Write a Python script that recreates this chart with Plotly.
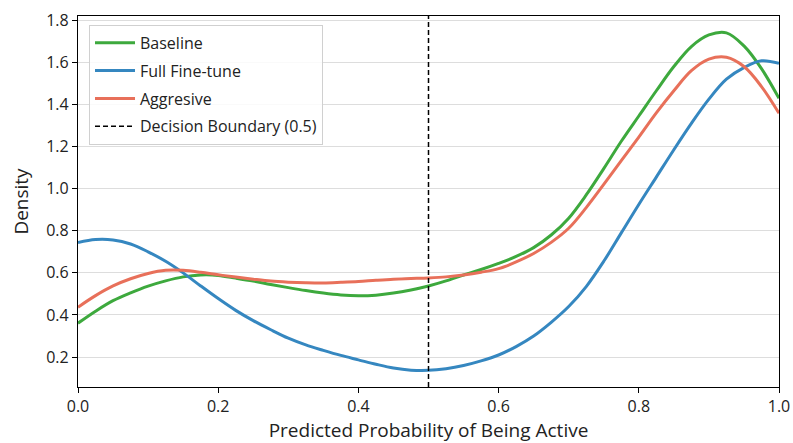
import plotly.graph_objects as go

# ---- data ----
x_grid = [0.000, 0.025, 0.050, 0.075, 0.100, 0.125, 0.150, 0.175, 0.200, 0.225,
          0.250, 0.275, 0.300, 0.325, 0.350, 0.375, 0.400, 0.425, 0.450, 0.475,
          0.500, 0.525, 0.550, 0.575, 0.600, 0.625, 0.650, 0.675, 0.700, 0.725,
          0.750, 0.775, 0.800, 0.825, 0.850, 0.875, 0.900, 0.925, 0.950, 0.975, 1.000]

y_baseline = [0.361, 0.418, 0.468, 0.505, 0.537, 0.562, 0.581, 0.590, 0.588, 0.575,
              0.561, 0.545, 0.530, 0.516, 0.504, 0.495, 0.491, 0.494, 0.504, 0.519,
              0.538, 0.562, 0.590, 0.616, 0.645, 0.678, 0.720, 0.780, 0.860, 0.970,
              1.095, 1.225, 1.345, 1.465, 1.580, 1.675, 1.730, 1.740, 1.678, 1.570, 1.429]

y_full = [0.744, 0.758, 0.756, 0.737, 0.700, 0.655, 0.600, 0.538, 0.478, 0.422,
          0.373, 0.330, 0.290, 0.258, 0.232, 0.208, 0.187, 0.166, 0.148, 0.138,
          0.137, 0.145, 0.160, 0.182, 0.210, 0.250, 0.300, 0.365, 0.440, 0.535,
          0.655, 0.790, 0.925, 1.055, 1.185, 1.310, 1.425, 1.520, 1.575, 1.607, 1.595]

y_aggr = [0.437, 0.492, 0.538, 0.572, 0.597, 0.612, 0.612, 0.603, 0.591, 0.580,
          0.570, 0.561, 0.556, 0.553, 0.552, 0.555, 0.559, 0.565, 0.570, 0.573,
          0.576, 0.581, 0.590, 0.603, 0.620, 0.652, 0.692, 0.745, 0.812, 0.910,
          1.020, 1.133, 1.245, 1.360, 1.465, 1.560, 1.615, 1.624, 1.580, 1.485, 1.358]

decision_boundary = 0.5
x_ticks = [0.0, 0.2, 0.4, 0.6, 0.8, 1.0]
y_ticks = [0.2, 0.4, 0.6, 0.8, 1.0, 1.2, 1.4, 1.6, 1.8]

FONT = "'Open Sans', Lato, sans-serif"

fig = go.Figure()
series = [
    ("Baseline", y_baseline, "#3DA93D"),
    ("Full Fine-tune", y_full, "#3587C0"),
    ("Aggresive", y_aggr, "#E8705A"),
]
for i, (name, ys, col) in enumerate(series):
    fig.add_trace(go.Scatter(x=x_grid, y=ys, mode="lines", name=name, legendgroup=f"g{i}",
                             line=dict(color=col, width=3, shape="spline", smoothing=1.0)))

fig.add_shape(type="line", x0=decision_boundary, x1=decision_boundary, xref="x",
              y0=0, y1=1, yref="paper", line=dict(color="black", width=1.5, dash="5px,3px"),
              showlegend=True, name="Decision Boundary (0.5)", legendrank=2000, legendgroup="g3")

fig.update_layout(
    width=793, height=443,
    margin=dict(l=78, r=14, t=16, b=56),
    paper_bgcolor="white", plot_bgcolor="white",
    font=dict(family=FONT, size=16, color="#222222"),
    legend=dict(x=0.0157, y=0.976, xanchor="left", yanchor="top",
                bgcolor="rgba(255,255,255,0.85)", bordercolor="#d0d0d0", borderwidth=1,
                font=dict(size=16), tracegroupgap=4, itemwidth=40),
    showlegend=True,
)
fig.update_xaxes(range=[0, 1], tickvals=x_ticks, tickformat=".1f", automargin=False,
                 showgrid=False, showline=True, mirror=True, linecolor="black", linewidth=1.2,
                 ticks="outside", ticklen=5, tickcolor="black", zeroline=False,
                 title=dict(text="Predicted Probability of Being Active", font=dict(size=19), standoff=7),
                 tickfont=dict(size=16))
fig.update_yaxes(range=[0.058, 1.82], tickvals=y_ticks, tickformat=".1f", automargin=False,
                 showgrid=True, gridcolor="#dddddd", gridwidth=1,
                 showline=True, mirror=True, linecolor="black", linewidth=1.2,
                 ticks="outside", ticklen=5, tickcolor="black", zeroline=False,
                 title=dict(text="Density", font=dict(size=19), standoff=12),
                 tickfont=dict(size=16))

fig.write_html("out.html")
